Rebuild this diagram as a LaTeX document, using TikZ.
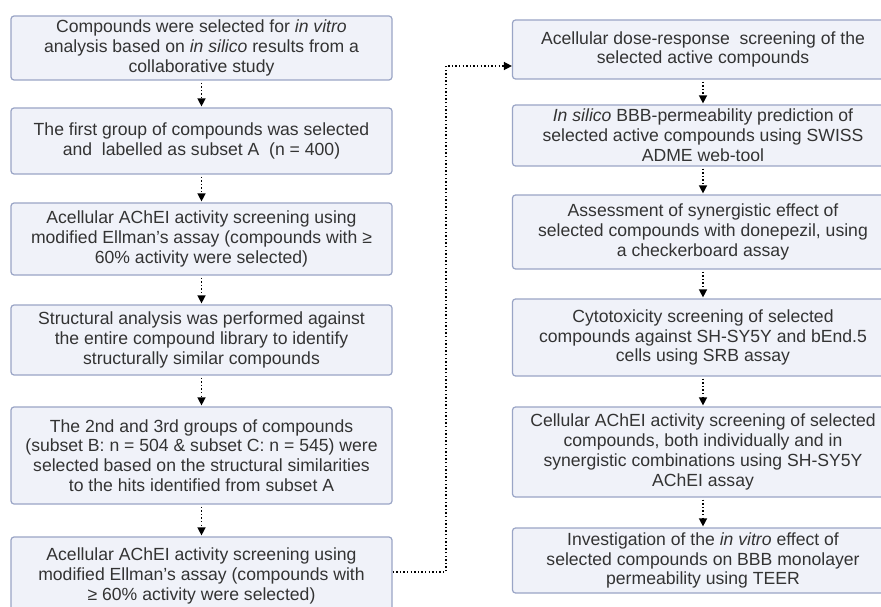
\documentclass[tikz,border=0pt]{standalone}
\usepackage{fontspec}
\setmainfont{Liberation Sans}
\usetikzlibrary{arrows.meta}
\definecolor{boxfill}{HTML}{F0F2F9}
\definecolor{boxdraw}{HTML}{9AA5C6}
\definecolor{txt}{HTML}{333333}
\begin{document}
\begin{tikzpicture}[x=1pt,y=-1pt,
  stepbox/.style={draw=boxdraw,fill=boxfill,line width=1.2pt,rounded corners=3pt,
    minimum width=381pt,inner sep=0pt,align=center,text=txt,
    font=\fontsize{17.6}{19.8}\selectfont},
  flow/.style={line width=1.4pt,dash pattern=on 1.4pt off 2.2pt,
    -{Triangle[width=8pt,length=8pt]},shorten <=2pt,shorten >=1pt}]
\useasboundingbox (0,0) rectangle (881,607);
\fill[white] (0,0) rectangle (881,607);
% left column
\node[stepbox,minimum height=64pt] (B1) at (201.5,48)
  {Compounds were selected for \textit{in vitro}\\analysis based on \textit{in silico} results from a\\collaborative study};
\node[stepbox,minimum height=66pt] (B2) at (201.5,141)
  {The first group of compounds was selected\\and\ \ labelled as subset A\ \ (n = 400)};
\node[stepbox,minimum height=72pt] (B3) at (201.5,239)
  {Acellular AChEI activity screening using\\modified Ellman’s assay (compounds with ≥\\60\% activity were selected)};
\node[stepbox,minimum height=70pt] (B4) at (201.5,340)
  {Structural analysis was performed against\\the entire compound library to identify\\structurally similar compounds};
\node[stepbox,minimum height=97pt] (B5) at (201.5,455.5)
  {The 2nd and 3rd groups of compounds\\(subset B: n = 504 \& subset C: n = 545) were\\selected based on the structural similarities\\to the hits identified from subset A};
\node[stepbox,minimum height=78pt] (B6) at (201.5,576)
  {Acellular AChEI activity screening using\\modified Ellman’s assay (compounds with\\≥ 60\% activity were selected)};
% right column
\node[stepbox,minimum height=59pt] (R1) at (703,49.5)
  {Acellular dose-response\ \ screening of the\\selected active compounds};
\node[stepbox,minimum height=61pt] (R2) at (703,135.5)
  {\textit{In silico} BBB-permeability prediction of\\selected active compounds using SWISS\\ADME web-tool};
\node[stepbox,minimum height=74pt] (R3) at (703,232)
  {Assessment of synergistic effect of\\selected compounds with donepezil, using\\a checkerboard assay};
\node[stepbox,minimum height=77pt] (R4) at (703,337.5)
  {Cytotoxicity screening of selected\\compounds against SH-SY5Y and bEnd.5\\cells using SRB assay};
\node[stepbox,minimum height=90pt] (R5) at (703,452)
  {Cellular AChEI activity screening of selected\\compounds, both individually and in\\synergistic combinations using SH-SY5Y\\AChEI assay};
\node[stepbox,minimum height=65pt] (R6) at (703,560.5)
  {Investigation of the \textit{in vitro} effect of\\selected compounds on BBB monolayer\\permeability using TEER};
% connectors
\draw[flow] (B1) -- (B2);
\draw[flow] (B2) -- (B3);
\draw[flow] (B3) -- (B4);
\draw[flow] (B4) -- (B5);
\draw[flow] (B5) -- (B6);
\draw[flow] (R1) -- (R2);
\draw[flow] (R2) -- (R3);
\draw[flow] (R3) -- (R4);
\draw[flow] (R4) -- (R5);
\draw[flow] (R5) -- (R6);
\coordinate (lp) at (446,572);
\draw[flow,shorten <=0pt,shorten >=0pt] (B6.east |- lp) -- (lp) |- ([yshift=-16.5pt]R1.west);
\end{tikzpicture}
\end{document}
